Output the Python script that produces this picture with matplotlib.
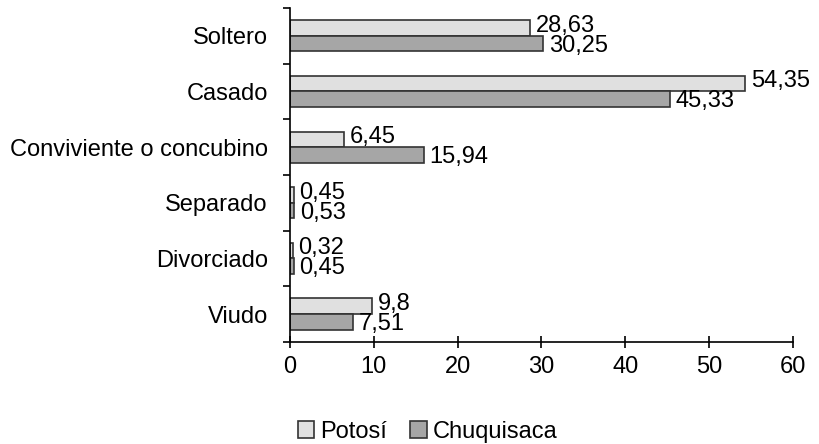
import matplotlib.pyplot as plt
import numpy as np

categories = ['Soltero', 'Casado', 'Conviviente o concubino', 'Separado', 'Divorciado', 'Viudo']
potosi = [28.63, 54.35, 6.45, 0.45, 0.32, 9.8]
chuquisaca = [30.25, 45.33, 15.94, 0.53, 0.45, 7.51]
potosi_labels = ['28,63', '54,35', '6,45', '0,45', '0,32', '9,8']
chuquisaca_labels = ['30,25', '45,33', '15,94', '0,53', '0,45', '7,51']

plt.rcParams['font.family'] = ['Liberation Sans', 'DejaVu Sans']
fs = 17

fig = plt.figure(figsize=(8.19, 4.44), dpi=100)
ax = fig.add_axes([0.354, 0.23, 0.614, 0.752])

y = np.arange(len(categories))
h = 0.28
b1 = ax.barh(y - h / 2, potosi, height=h, color='#e0e0e0', edgecolor='#333333',
             linewidth=1.2, label='Potosí')
b2 = ax.barh(y + h / 2, chuquisaca, height=h, color='#a6a6a6', edgecolor='#333333',
             linewidth=1.2, label='Chuquisaca')

# value labels, slightly spread apart like the original
for bar, txt in zip(b1, potosi_labels):
    ax.text(bar.get_width() + 0.7, bar.get_y() + bar.get_height() / 2 - 0.04, txt,
            va='center', ha='left', fontsize=fs)
for bar, txt in zip(b2, chuquisaca_labels):
    ax.text(bar.get_width() + 0.7, bar.get_y() + bar.get_height() / 2 + 0.04, txt,
            va='center', ha='left', fontsize=fs)

ax.set_ylim(len(categories) - 0.5, -0.5)
ax.set_xlim(0, 60)
ax.set_xticks(range(0, 61, 10))
ax.set_yticks(y)
ax.set_yticklabels(categories, fontsize=fs)
ax.set_yticks(np.arange(-0.5, len(categories), 1), minor=True)
ax.tick_params(axis='y', which='major', length=0, pad=16)
ax.tick_params(axis='y', which='minor', length=5, width=1.2)
ax.tick_params(axis='x', labelsize=fs, direction='inout', length=8, width=1.2, pad=6)

for s in ['top', 'right']:
    ax.spines[s].set_visible(False)
for s in ['left', 'bottom']:
    ax.spines[s].set_linewidth(1.2)

fig.legend(handles=[b1, b2], loc='center', bbox_to_anchor=(0.522, 0.027), ncol=2,
           frameon=False, fontsize=fs, handlelength=0.7, handleheight=0.7,
           handletextpad=0.25, columnspacing=1.0)

fig.savefig('out.png', dpi=100)
